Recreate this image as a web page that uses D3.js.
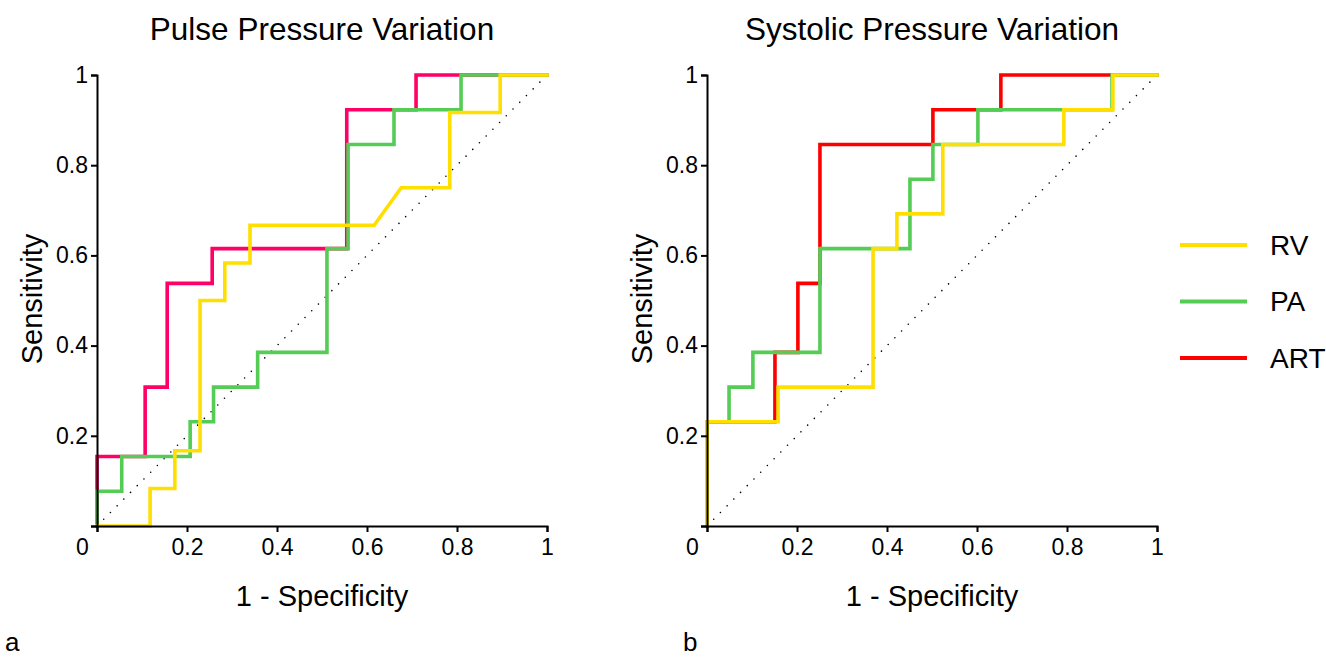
<!DOCTYPE html>
<html>
<head>
<meta charset="utf-8">
<script src="https://cdn.jsdelivr.net/npm/d3@7"></script>
<style>
    body { margin: 0; background: #fff; }
    svg { font-family: "Liberation Sans", Arial, sans-serif; }
</style>
</head>
<body>
<script>
// ROC vertices [1 - specificity, sensitivity]
var ppvArt = [[0,0],[0,0.154],[0.107,0.154],[0.107,0.308],[0.156,0.308],[0.156,0.538],[0.256,0.538],[0.256,0.615],
              [0.555,0.615],[0.555,0.923],[0.709,0.923],[0.709,1],[1,1]];
var ppvPa = [[0,0],[0,0.077],[0.055,0.077],[0.055,0.154],[0.207,0.154],[0.207,0.231],[0.259,0.231],[0.259,0.308],
             [0.357,0.308],[0.357,0.385],[0.511,0.385],[0.511,0.615],[0.558,0.615],[0.558,0.846],[0.66,0.846],
             [0.66,0.923],[0.809,0.923],[0.809,1],[1,1]];
var ppvRv = [[0,0],[0.118,0],[0.118,0.083],[0.173,0.083],[0.173,0.167],[0.229,0.167],[0.229,0.5],[0.284,0.5],
             [0.284,0.583],[0.34,0.583],[0.34,0.667],[0.616,0.667],[0.676,0.75],[0.784,0.75],[0.784,0.917],
             [0.896,0.917],[0.896,1],[1,1]];

var spvArt = [[0,0],[0,0.231],[0.151,0.231],[0.151,0.385],[0.202,0.385],[0.202,0.538],[0.251,0.538],[0.251,0.846],
              [0.502,0.846],[0.502,0.923],[0.653,0.923],[0.653,1],[1,1]];
var spvPa = [[0,0],[0,0.231],[0.049,0.231],[0.049,0.308],[0.102,0.308],[0.102,0.385],[0.251,0.385],[0.251,0.615],
             [0.451,0.615],[0.451,0.769],[0.502,0.769],[0.502,0.846],[0.602,0.846],[0.602,0.923],[0.9,0.923],
             [0.9,1],[1,1]];
var spvRv = [[0,0],[0,0.231],[0.158,0.231],[0.158,0.308],[0.369,0.308],[0.369,0.615],[0.422,0.615],[0.422,0.692],
             [0.524,0.692],[0.524,0.846],[0.793,0.846],[0.793,0.923],[0.902,0.923],[0.902,1],[1,1]];

var tickVals = [0, 0.2, 0.4, 0.6, 0.8, 1];
var tickLabels = ["0", "0.2", "0.4", "0.6", "0.8", "1"];
var seriesNames = ["RV", "PA", "ART"];

var yellow = "#ffdf00",
    green = "#55cc55",
    pink = "#ff0066",
    red = "#ff0000";

var W = 1326, H = 659;

var svg = d3.select("body").append("svg")
            .attr("width", W)
            .attr("height", H);

function drawPanel(left, title, letter, letterX, curves) {
    var x = d3.scaleLinear().domain([0, 1]).range([left, left + 450]),
        y = d3.scaleLinear().domain([0, 1]).range([526, 75]);

    var g = svg.append("g");

    // chance line
    g.append("line")
     .attr("x1", x(0)).attr("y1", y(0))
     .attr("x2", x(1)).attr("y2", y(1))
     .style("stroke", "#000")
     .style("stroke-width", 1.6)
     .style("stroke-linecap", "round")
     .style("stroke-dasharray", "0,9.5");

    var line = d3.line()
                 .x(function(d) {return x(d[0]); })
                 .y(function(d) {return y(d[1]); });

    curves.forEach(function(c) {
        g.append("path")
         .datum(c.data)
         .attr("d", line)
         .style("fill", "none")
         .style("stroke", c.color)
         .style("stroke-width", 3.6)
         .style("stroke-linejoin", "miter")
         .style("stroke-linecap", "square");
    });

    var xAxis = g.append("g")
                 .attr("transform", "translate(0," + y(0) + ")")
                 .call(d3.axisBottom(x)
                         .tickValues(tickVals)
                         .tickFormat(function(d, i) {return tickLabels[i]; })
                         .tickSizeOuter(0)
                         .tickSize(6)
                         .tickPadding(7));
    xAxis.selectAll("text")
         .attr("dx", function(d) {return d === 0 ? -15 : 0; });

    var yAxis = g.append("g")
                 .attr("transform", "translate(" + x(0) + ",0)")
                 .call(d3.axisLeft(y)
                         .tickValues(tickVals)
                         .tickFormat(function(d, i) {return d === 0 ? "" : tickLabels[i]; })
                         .tickSizeOuter(0)
                         .tickSize(6)
                         .tickPadding(3));

    [xAxis, yAxis].forEach(function(a) {
        a.select(".domain").style("stroke", "#000").style("stroke-width", 2);
        a.selectAll(".tick line").style("stroke", "#000").style("stroke-width", 2);
        a.selectAll(".tick text")
         .style("font-size", "23px")
         .style("fill", "#000")
         .style("font-family", "'Liberation Sans', Arial, sans-serif");
    });

    g.append("text")
     .attr("x", left + 225)
     .attr("y", 40)
     .attr("text-anchor", "middle")
     .style("font-size", "31.5px")
     .text(title);

    g.append("text")
     .attr("x", left + 225)
     .attr("y", 606)
     .attr("text-anchor", "middle")
     .style("font-size", "29px")
     .text("1 - Specificity");

    g.append("text")
     .attr("transform", "translate(" + (left - 55) + ",299) rotate(-90)")
     .attr("text-anchor", "middle")
     .style("font-size", "29px")
     .text("Sensitivity");

    g.append("text")
     .attr("x", letterX)
     .attr("y", 651)
     .style("font-size", "26px")
     .text(letter);
}

drawPanel(97, "Pulse Pressure Variation", "a", 5,
          [{data: ppvArt, color: pink}, {data: ppvPa, color: green}, {data: ppvRv, color: yellow}]);
drawPanel(707, "Systolic Pressure Variation", "b", 683,
          [{data: spvArt, color: red}, {data: spvPa, color: green}, {data: spvRv, color: yellow}]);

// legend
var legendColors = [yellow, green, red],
    legendY = d3.scalePoint().domain(seriesNames).range([245, 358]);

var rows = svg.selectAll(".legendRow")
              .data(seriesNames)
              .enter()
              .append("g")
              .attr("class", "legendRow")
              .attr("transform", function(d) {return "translate(1180," + legendY(d) + ")"; });

rows.append("line")
    .attr("x1", 0).attr("x2", 67)
    .style("stroke", function(d, i) {return legendColors[i]; })
    .style("stroke-width", 4);

rows.append("text")
    .attr("x", 90)
    .attr("dy", "0.35em")
    .style("font-size", "28px")
    .text(function(d) {return d; });
</script>
</body>
</html>
